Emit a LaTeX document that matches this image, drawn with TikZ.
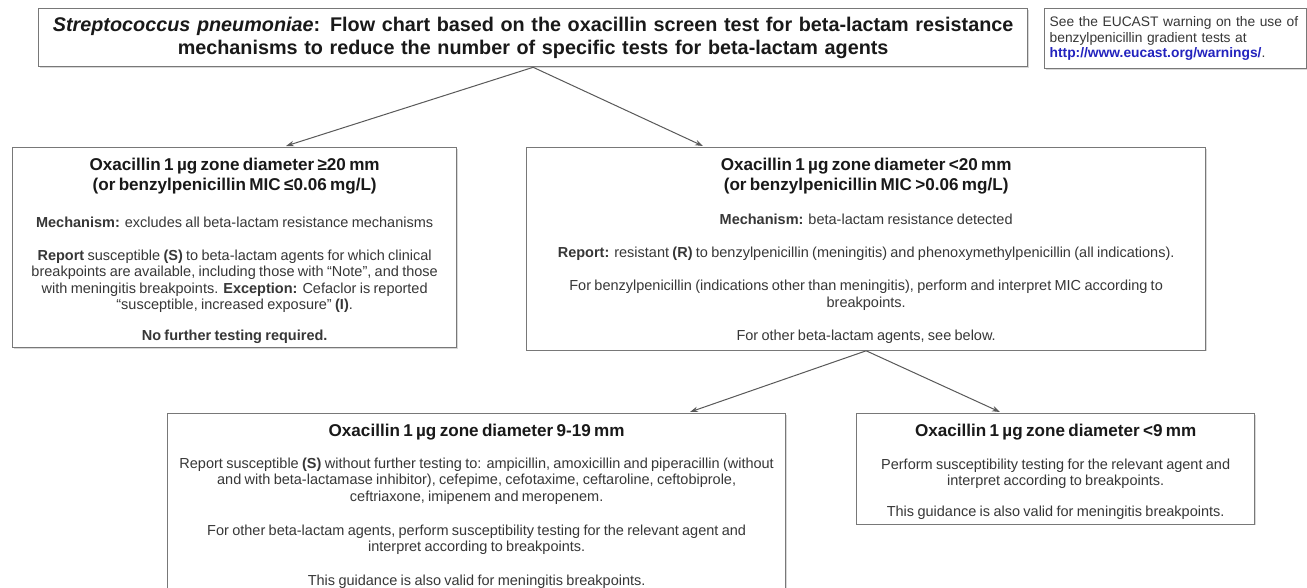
\documentclass[tikz,border=0pt]{standalone}
\usepackage{fontspec}
\setmainfont{Liberation Sans}
\usetikzlibrary{arrows.meta,shadows}
\definecolor{linkblue}{RGB}{35,35,190}
\definecolor{bordergray}{RGB}{120,120,120}
\definecolor{txtgray}{RGB}{55,55,55}
\definecolor{headblack}{RGB}{25,25,25}
\newcommand{\TitleF}{\fontsize{19.8}{23}\selectfont\bfseries}
\newcommand{\HeadF}{\fontsize{17.1}{19.5}\selectfont\bfseries\color{headblack}}
\newcommand{\BodyF}{\fontsize{14.5}{16.5}\selectfont\mdseries\color{txtgray}}
\newcommand{\NoteF}{\fontsize{13.8}{15.4}\selectfont\color{txtgray}}
\newcommand{\TopStrut}{\rule{0pt}{19pt}}
\begin{document}
\begin{tikzpicture}[x=1pt,y=-1pt,
  box/.style={draw=bordergray, line width=1.3pt, fill=white, anchor=north west,
    align=center, inner xsep=4pt, inner ysep=4pt, text=txtgray,
    drop shadow={shadow xshift=1.2pt, shadow yshift=-1.2pt, opacity=0.3}},
  conn/.style={draw=black!65, line width=1pt, -{Stealth[length=8pt,width=5.5pt]}}]
\fill[white] (0,0) rectangle (1307,588);
\useasboundingbox (0,0) rectangle (1307,588);

\node[box, text width=981pt, minimum height=58pt, inner ysep=6pt, text=headblack, font=\TitleF] (title) at (38,8)
  {\textit{Streptococcus pneumoniae}: Flow chart based on the oxacillin screen test for beta-lactam resistance\\
   mechanisms to reduce the number of specific tests for beta-lactam agents};

\node[box, text width=252pt, minimum height=60pt, inner ysep=6pt, align=left, inner xsep=5pt, font=\NoteF] (note) at (1044,8)
  {See the EUCAST warning on the use of\\
   benzylpenicillin gradient tests at\\
   \textbf{\textcolor{linkblue}{http://www.eucast.org/warnings/}}.};

\node[box, text width=436pt] (left) at (12,147)
  {\HeadF\TopStrut Oxacillin 1 µg zone diameter ≥20 mm\\
   (or benzylpenicillin MIC ≤0.06 mg/L)\\[20.5pt]
   \BodyF\textbf{Mechanism:} excludes all beta-lactam resistance mechanisms\\[16.5pt]
   \textbf{Report} susceptible \textbf{(S)} to beta-lactam agents for which clinical\\
   breakpoints are available, including those with “Note”, and those\\
   with meningitis breakpoints. \textbf{Exception:} Cefaclor is reported\\
   “susceptible, increased exposure” \textbf{(I)}.\\[16.5pt]
   \textbf{No further testing required.}};

\node[box, text width=671pt] (mid) at (526,147)
  {\HeadF\TopStrut Oxacillin 1 µg zone diameter <20 mm\\
   (or benzylpenicillin MIC >0.06 mg/L)\\[18pt]
   \BodyF\textbf{Mechanism:} beta-lactam resistance detected\\[16.5pt]
   \textbf{Report:} resistant \textbf{(R)} to benzylpenicillin (meningitis) and phenoxymethylpenicillin (all indications).\\[16.5pt]
   For benzylpenicillin (indications other than meningitis), perform and interpret MIC according to\\
   breakpoints.\\[16.5pt]
   For other beta-lactam agents, see below.\\[-6pt]\mbox{}};

\node[box, text width=610pt] (bl) at (167,413)
  {\HeadF\TopStrut Oxacillin 1 µg zone diameter 9-19 mm\\[15pt]
   \BodyF Report susceptible \textbf{(S)} without further testing to: ampicillin, amoxicillin and piperacillin (without\\
   and with beta-lactamase inhibitor), cefepime, cefotaxime, ceftaroline, ceftobiprole,\\
   ceftriaxone, imipenem and meropenem.\\[17.5pt]
   For other beta-lactam agents, perform susceptibility testing for the relevant agent and\\
   interpret according to breakpoints.\\[17.5pt]
   This guidance is also valid for meningitis breakpoints.\\[6pt]\mbox{}};

\node[box, text width=390pt] (br) at (856,413)
  {\HeadF\TopStrut Oxacillin 1 µg zone diameter <9 mm\\[16pt]
   \BodyF Perform susceptibility testing for the relevant agent and\\
   interpret according to breakpoints.\\[14pt]
   This guidance is also valid for meningitis breakpoints.\\[-8pt]\mbox{}};

\coordinate (inL) at (286,146);
\coordinate (inM) at (703,146);
\coordinate (inBL) at (690,412);
\coordinate (inBR) at (1000,412);

\draw[conn] (title.south) -- (inL);
\draw[conn] (title.south) -- (inM);
\draw[conn] (mid.south) -- (inBL);
\draw[conn] (mid.south) -- (inBR);
\end{tikzpicture}
\end{document}
